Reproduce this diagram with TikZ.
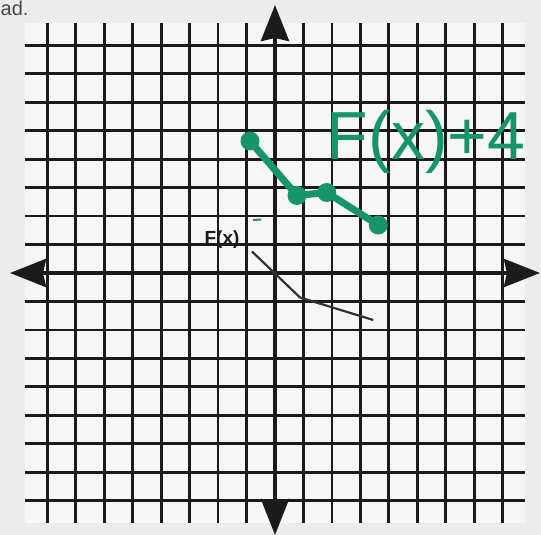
\documentclass[tikz,border=0pt]{standalone}
\usepackage{fontspec}
\setmainfont{Liberation Sans}
\usetikzlibrary{arrows.meta}
\definecolor{marker}{RGB}{22,150,104}
\definecolor{ink}{RGB}{28,26,26}
\definecolor{paper}{RGB}{236,236,236}
\definecolor{cell}{RGB}{246,246,246}
\begin{document}
\begin{tikzpicture}[x=25pt,y=25pt,
  gridline/.style={ink, line width=2.8pt},
  axisline/.style={ink, line width=4pt, arrows={Stealth[length=36pt,width=28pt,inset=3pt]-Stealth[length=36pt,width=28pt,inset=3pt]}},
  fline/.style={ink!90, line width=2.2pt},
  gline/.style={marker, line width=7pt, line cap=round, line join=round},
  gdot/.style={circle, fill=marker, inner sep=0pt, minimum size=19pt},
]
\useasboundingbox[fill=paper] (-11,-10.48) rectangle (10.64,10.92);
\fill[cell] (-10,-10) rectangle (10,10);
\draw[gridline] (-10,-10) grid (10,10);
% axes
\coordinate (xl) at (-10.6,0);
\coordinate (xr) at (10.6,0);
\coordinate (yt) at (0,10.72);
\coordinate (yb) at (0,-10.48);
\draw[axisline] (xl) -- (xr);
\draw[axisline] (yb) -- (yt);
% text fragment at top
\node[anchor=base west, ink!80, font=\fontsize{20}{20}\selectfont, inner sep=0pt] (adtext) at (-10.98,10.28) {ad.};
% F(x)
\node[ink, font=\bfseries\fontsize{19}{19}\selectfont, inner sep=0pt] (flabel) at (-2.12,1.32) {F(x)};
\coordinate (f1) at (-0.92,0.86);
\coordinate (f2) at (1,-0.98);
\coordinate (f3) at (3.93,-1.88);
\draw[fline] (f1) -- (f2) -- (f3);
% F(x)+4
\node[gdot] (g1) at (-1,5.28) {};
\node[gdot] (g2) at (0.88,3.1) {};
\node[gdot] (g3) at (2.07,3.22) {};
\node[gdot] (g4) at (4.13,1.92) {};
\draw[gline] (g1.center) -- (g2.center) -- (g3.center) -- (g4.center);
\coordinate (s1) at (-0.88,2.12);
\coordinate (s2) at (-0.55,2.14);
\draw[marker, line width=2pt] (s1) -- (s2);
\node[marker, font=\fontsize{68}{68}\selectfont, anchor=base, inner sep=0pt] (glabel) at (6.04,4.52) {F(x)+4};
\end{tikzpicture}
\end{document}
